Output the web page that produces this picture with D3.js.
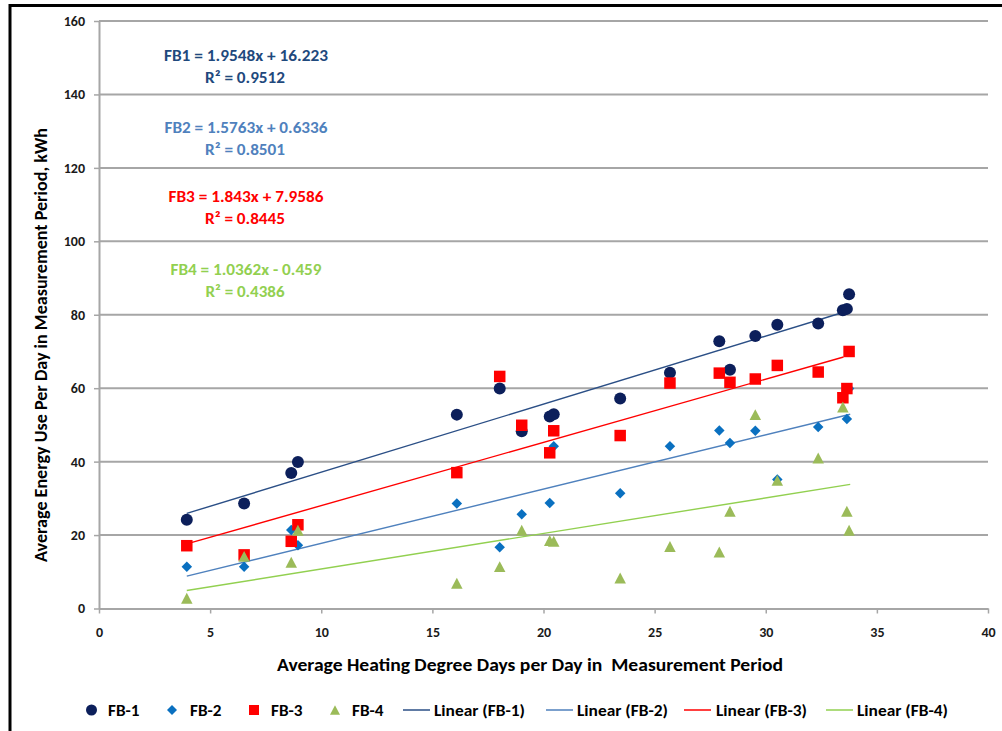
<!DOCTYPE html>
<html><head><meta charset="utf-8">
<script src="https://cdn.jsdelivr.net/npm/d3@7"></script>
<style>body{margin:0;background:#fff}svg{display:block}</style>
</head><body>
<script>
// ---- data ----
const hdd = [3.95, 6.53, 8.65, 8.95, 16.1, 18.03, 19.02, 20.28, 20.46, 23.45, 25.69, 27.91, 28.39, 29.53, 30.52, 32.36, 33.47, 33.65, 33.75];
const fb1 = [24.2, 28.6, 36.9, 39.9, 52.8, 59.9, 48.3, 52.3, 52.9, 57.2, 64.2, 72.8, 65.0, 74.2, 77.3, 77.6, 81.2, 81.6, 85.6];
const fb2 = [11.4, 11.4, 21.4, 17.2, 28.6, 16.7, 25.7, 28.7, 44.2, 31.4, 44.2, 48.5, 45.1, 48.4, 35.1, 49.4, null, 51.6, 59.9];
const fb3 = [17.1, 14.6, 18.3, 22.8, 37.0, 63.2, 49.9, 42.4, 48.4, 47.1, 61.4, 64.1, 61.6, 62.5, 66.2, 64.4, 57.4, 59.9, 70.0];
const fb4 = [2.8, 14.2, 12.6, 21.3, 6.9, 11.4, 21.3, 18.5, 18.3, 8.3, 16.9, 15.4, 26.5, 52.8, 34.9, 41.0, 54.9, 26.5, 21.3];
const seriesNames = ["FB-1", "FB-2", "FB-3", "FB-4"];
// trend line end points [x0, y0, x1, y1]
const trend1 = [3.95, 25.9, 33.83, 81.3];
const trend2 = [3.95, 8.8, 33.8, 52.9];
const trend3 = [3.95, 17.6, 33.5, 68.5];
const trend4 = [3.95, 4.9, 33.8, 33.8];
const equations = ["FB1 = 1.9548x + 16.223", "FB2 = 1.5763x + 0.6336", "FB3 = 1.843x + 7.9586", "FB4 = 1.0362x - 0.459"];
const rsquared = ["R\u00B2 = 0.9512", "R\u00B2 = 0.8501", "R\u00B2 = 0.8445", "R\u00B2 = 0.4386"];
const xTicks = [0, 5, 10, 15, 20, 25, 30, 35, 40];
const yTicks = [0, 20, 40, 60, 80, 100, 120, 140, 160];
const xTitle = "Average Heating Degree Days per Day in \u00A0Measurement Period";
const yTitle = "Average Energy Use Per Day in Measurement Period, kWh";

// ---- styling ----
const FONT = "Carlito, Calibri, 'Liberation Sans Narrow', 'DejaVu Sans Condensed', sans-serif";
const markerColors = ["#0c1f5b", "#0a70c0", "#ff0000", "#9bbb59"];
const lineColors = ["#2b4f86", "#4f81bd", "#ff0000", "#92d050"];
const eqColors = ["#1f497d", "#4f81bd", "#ff0000", "#92d050"];
const shapes = ["circle", "diamond", "square", "triangle"];

const W = 1002, H = 731;
const svg = d3.select("body").append("svg").attr("width", W).attr("height", H);
svg.append("rect").attr("width", W).attr("height", H).attr("fill", "#fff");
// frame
svg.append("rect").attr("x", 10).attr("y", 5.5).attr("width", 1100).attr("height", 800)
  .attr("fill", "none").attr("stroke", "#000").attr("stroke-width", 3);

const x = d3.scaleLinear().domain([0, 40]).range([99, 988]);
const y = d3.scaleLinear().domain([0, 160]).range([608.5, 21]);

// gridlines
svg.append("g").selectAll("line").data(yTicks.filter(d => d > 0)).join("line")
  .attr("x1", x(0)).attr("x2", x(40)).attr("y1", d => y(d)).attr("y2", d => y(d))
  .attr("stroke", "#a6a6a6").attr("stroke-width", 2);

// axes
const gx = svg.append("g").attr("transform", `translate(0,${y(0)})`)
  .call(d3.axisBottom(x).tickValues(xTicks).tickSize(5).tickPadding(14).tickSizeOuter(0));
const gy = svg.append("g").attr("transform", `translate(${x(0)},0)`)
  .call(d3.axisLeft(y).tickValues(yTicks).tickSize(5).tickPadding(9).tickSizeOuter(0));
[gx, gy].forEach(g => {
  g.select(".domain").attr("stroke", "#a6a6a6").attr("stroke-width", 2);
  g.selectAll(".tick line").attr("stroke", "#a6a6a6").attr("stroke-width", 1.5);
  g.selectAll("text").attr("font-family", FONT).attr("font-size", 14).attr("font-weight", "bold").attr("fill", "#1a1a1a");
});

// trend lines
const trends = [trend1, trend2, trend3, trend4];
svg.append("g").selectAll("line").data(trends).join("line")
  .attr("x1", d => x(d[0])).attr("y1", d => y(d[1]))
  .attr("x2", d => x(d[2])).attr("y2", d => y(d[3]))
  .attr("stroke", (d, i) => lineColors[i]).attr("stroke-width", 1.4);

// marker path generator
function markerPath(shape, s) {
  const h = s / 2;
  if (shape === "circle") return `M${-h},0A${h},${h} 0 1,0 ${h},0A${h},${h} 0 1,0 ${-h},0Z`;
  if (shape === "diamond") return `M0,${-h}L${h},0L0,${h}L${-h},0Z`;
  if (shape === "square") return `M${-h},${-h}H${h}V${h}H${-h}Z`;
  return `M0,${-h * 0.95}L${h},${h * 0.95}L${-h},${h * 0.95}Z`;
}
const markerSizes = [12, 10.5, 11.5, 11.5];

const allSeries = [fb1, fb2, fb3, fb4];
allSeries.forEach((vals, si) => {
  const pts = hdd.map((h, i) => ({ h, v: vals[i] })).filter(d => d.v != null);
  svg.append("g").selectAll("path").data(pts).join("path")
    .attr("transform", d => `translate(${x(d.h)},${y(d.v)})`)
    .attr("d", markerPath(shapes[si], markerSizes[si]))
    .attr("fill", markerColors[si]);
});

function txt(sel, len) {
  if (len) sel.attr("textLength", len).attr("lengthAdjust", "spacingAndGlyphs");
  return sel;
}

// equations
const eqY = [61, 133, 202, 275];
const eqX = 246;
const eqLen = [164, 163, 155, 151];
const rLen = [80, 80, 80, 79];
equations.forEach((t, i) => {
  txt(svg.append("text").attr("x", eqX).attr("y", eqY[i]).attr("text-anchor", "middle")
    .attr("font-family", FONT).attr("font-size", 16).attr("font-weight", "bold")
    .attr("fill", eqColors[i]).text(t), eqLen[i]);
  txt(svg.append("text").attr("x", eqX - 1).attr("y", eqY[i] + 21.5).attr("text-anchor", "middle")
    .attr("font-family", FONT).attr("font-size", 16).attr("font-weight", "bold")
    .attr("fill", eqColors[i]).text(rsquared[i]), rLen[i]);
});

// axis titles
txt(svg.append("text").attr("x", 530).attr("y", 670.5).attr("text-anchor", "middle")
  .attr("font-family", FONT).attr("font-size", 18.5).attr("font-weight", "bold").attr("fill", "#000")
  .text(xTitle), 506);
txt(svg.append("text").attr("transform", "translate(47,345) rotate(-90)").attr("text-anchor", "middle")
  .attr("font-family", FONT).attr("font-size", 18.5).attr("font-weight", "bold").attr("fill", "#000")
  .text(yTitle), 434);

// legend
const legY = 710;
const legMarkX = [91.5, 172, 254, 335];
const legTextX = [108, 190, 271, 352];
seriesNames.forEach((n, i) => {
  svg.append("path").attr("transform", `translate(${legMarkX[i]},${legY})`)
    .attr("d", markerPath(shapes[i], i === 0 ? 11 : 10)).attr("fill", markerColors[i]);
  txt(svg.append("text").attr("x", legTextX[i]).attr("y", legY + 5.5)
    .attr("font-family", FONT).attr("font-size", 16.5).attr("font-weight", "bold").attr("fill", "#000").text(n), 31.5);
});
const legLineX = [403, 546, 684, 826];
const legLineTextX = [434, 577, 716, 857];
seriesNames.forEach((n, i) => {
  svg.append("line").attr("x1", legLineX[i]).attr("x2", legLineX[i] + 27).attr("y1", legY).attr("y2", legY)
    .attr("stroke", lineColors[i]).attr("stroke-width", 1.5);
  txt(svg.append("text").attr("x", legLineTextX[i]).attr("y", legY + 5.5)
    .attr("font-family", FONT).attr("font-size", 16.5).attr("font-weight", "bold").attr("fill", "#000")
    .text(`Linear (${n})`), 91);
});
</script>
</body></html>
